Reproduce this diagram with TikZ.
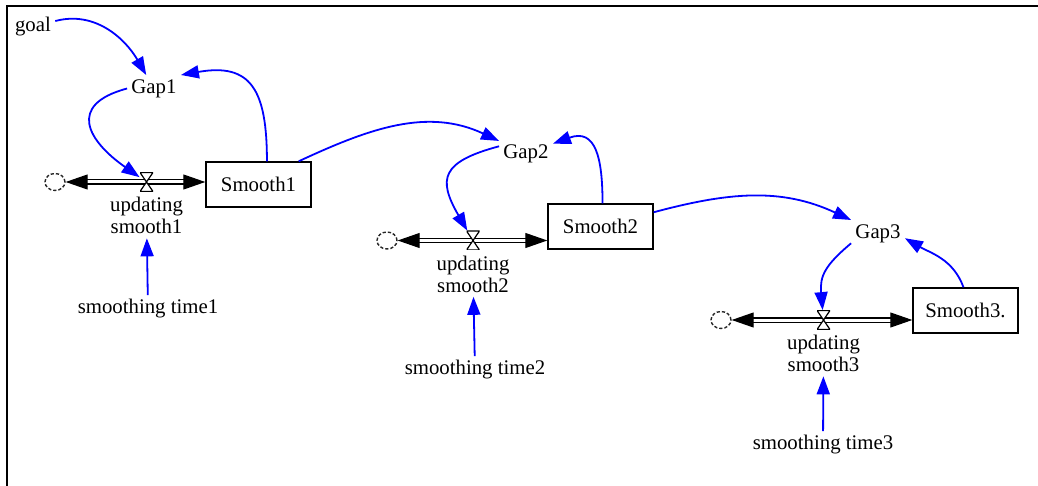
\documentclass[tikz,border=0pt]{standalone}
\usepackage{fontspec}
\setmainfont{Liberation Serif}
\usetikzlibrary{positioning}
\usetikzlibrary{calc}
\usetikzlibrary{shapes.geometric}
\usetikzlibrary{arrows.meta}

\begin{document}
\begin{tikzpicture}[x=0.5pt,y=0.5pt,font=\fontsize{10.4}{11}\selectfont]
		\tikzset{stock/.style = {shape=rectangle,draw,line width=0.7pt,minimum width=52.5pt,minimum height=22.5pt,inner sep=1pt}}
		\tikzset{var/.style = {shape=rectangle,draw=none,inner sep=2pt}}
		\tikzset{sink/.style = {shape=ellipse,draw=black!85,dash pattern=on 1.6pt off 1pt,line width=0.7pt,minimum width=10pt,minimum height=8.5pt,inner sep=0pt}}
		\tikzset{valve/.style = {shape=rectangle,draw=none,minimum width=6.5pt,minimum height=9.5pt,inner sep=0pt,
				path picture={\filldraw[fill=white,draw=black,line width=0.6pt] (path picture bounding box.north west) -- (path picture bounding box.north east) -- (path picture bounding box.south west) -- (path picture bounding box.south east) -- cycle;}}}
		\tikzset{pipe/.style = {double=white,double distance=1.5pt,line width=0.55pt,{Triangle[length=11pt,width=7.5pt]}-{Triangle[length=11pt,width=7.5pt]}}}
		\tikzset{link/.style = {->,> = {Triangle[length=9pt,width=6.5pt]},blue,line width=0.9pt}}
		\useasboundingbox (0,0) rectangle (1038,-486);
		% frame
		\draw[line width=1pt] (6.5,-486) -- (6.5,-6) -- (1038,-6);
		
		% vertices
		\node[var] (goal) at (33,-27) {goal};
		\node[var] (gap1) at (154,-88.5) {Gap1};
		\node[var] (gap2) at (526,-153.5) {Gap2};
		\node[var] (gap3) at (878,-233.5) {Gap3};
		
		\node[stock] (s1) at (258.5,-184.5) {Smooth1};
		\node[stock] (s2) at (600.5,-226.5) {Smooth2};
		\node[stock] (s3) at (965.5,-310.5) {Smooth3.};
		
		\node[sink] (cl1) at (55,-182) {};
		\node[sink] (cl2) at (387,-240.5) {};
		\node[sink] (cl3) at (721,-320) {};
		
		% flows
		\draw[pipe] (cl1) -- (cl1 -| s1.west);
		\draw[pipe] (cl2) -- (cl2 -| s2.west);
		\draw[pipe] (cl3) -- (cl3 -| s3.west);
		
		\node[valve] (v1) at (146.5,-182) {};
		\node[valve] (v2) at (473,-240.5) {};
		\node[valve] (v3) at (823.5,-320) {};
		
		\node[var,align=center,below=0.5pt of v1] (u1) {updating\\smooth1};
		\node[var,align=center,below=0.5pt of v2] (u2) {updating\\smooth2};
		\node[var,align=center,below=0.5pt of v3] (u3) {updating\\smooth3};
		
		\node[var] (st1) at (148,-309) {smoothing time1};
		\node[var] (st2) at (475,-370) {smoothing time2};
		\node[var] (st3) at (823,-445) {smoothing time3};
		
		%edges
		\draw[link] (goal) to[out=15,in=120] (gap1);
		\draw[link] (s1.70) to[out=90,in=10,looseness=1.5] (gap1.north east);
		\draw[link] (gap1.west) to[out=195,in=145,looseness=1.8] (v1);
		\draw[link] (st1) -- (u1);
		
		\draw[link] (s1.30) to[out=25,in=155] (gap2);
		\draw[link] (s2.85) to[out=90,in=20,looseness=1.5] (gap2);
		\draw[link] (gap2.165) to[out=195,in=120,looseness=1.7] (v2);
		\draw[link] (st2) -- (u2);
		
		\draw[link] (s2) to[out=15,in=155] (gap3.north west);
		\draw[link] (s3.95) to[out=110,in=-30] (gap3.-10);
		\draw[link] (gap3.200) to[out=220,in=95,looseness=1.2] (v3);
		\draw[link] (st3) -- (u3);
\end{tikzpicture}
\end{document}
